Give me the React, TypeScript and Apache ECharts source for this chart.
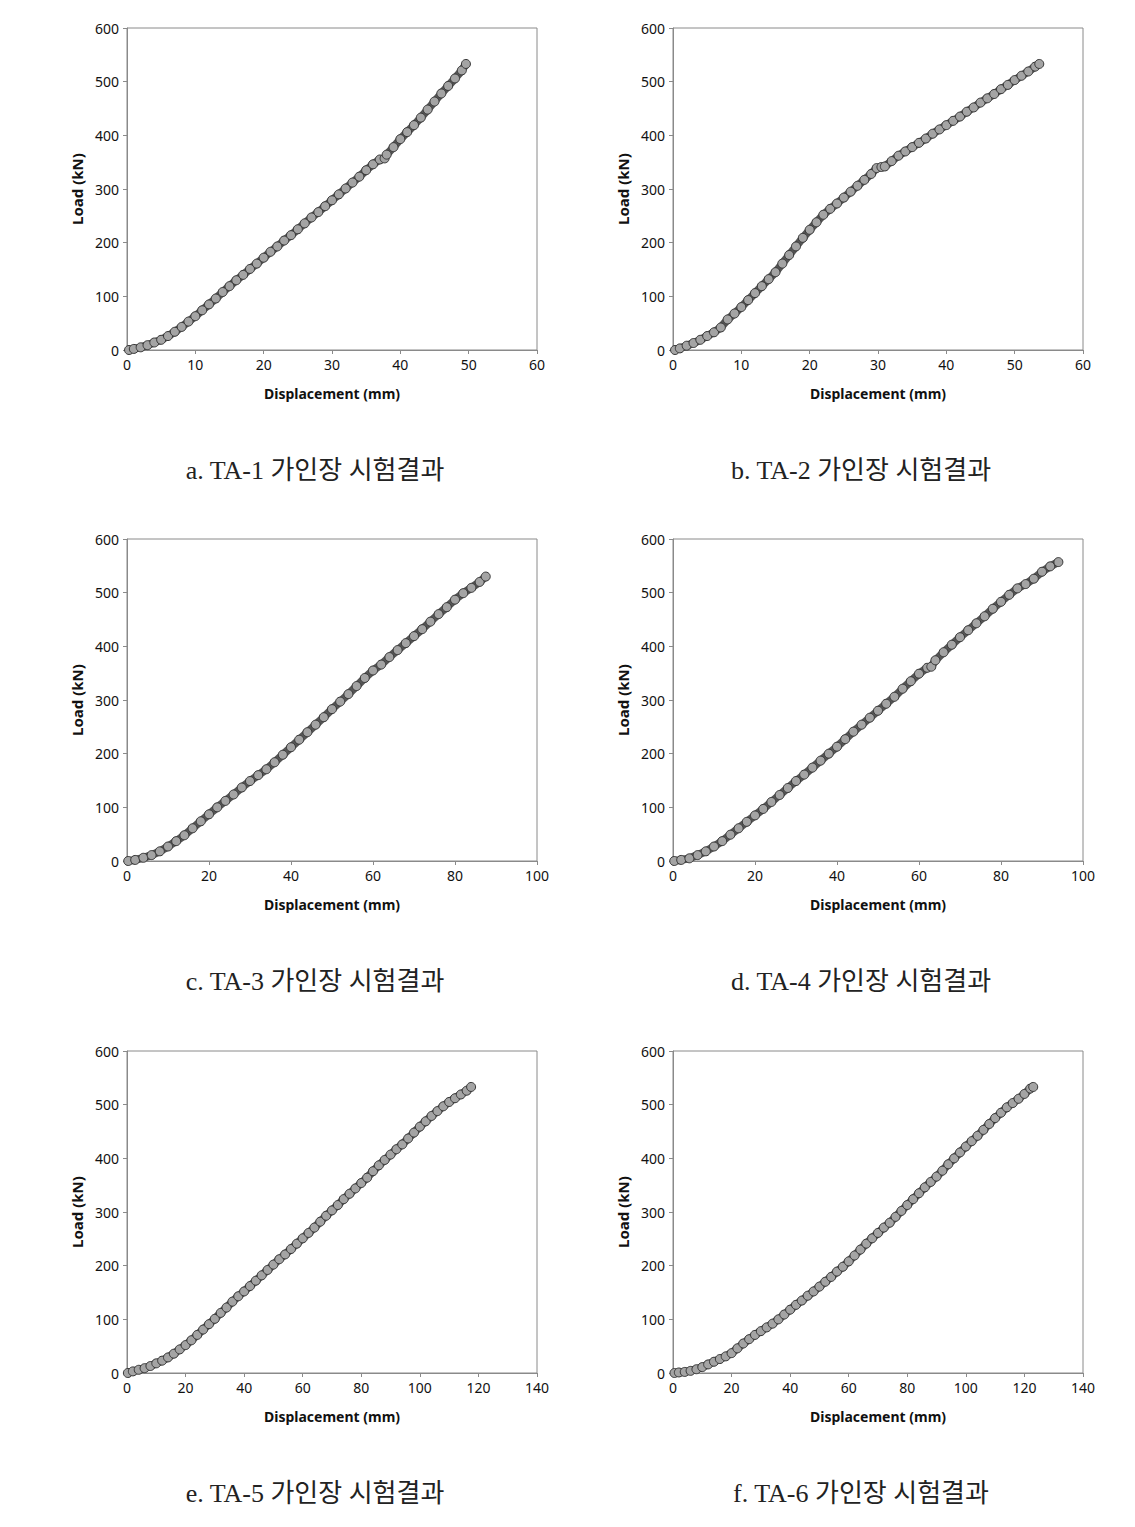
import React, { useEffect, useRef } from "react";
import * as echarts from "echarts";

// Displacement (mm), Load (kN) pairs
const TA1 = [
  [0.3, 0], [1, 2], [2, 5], [3, 9], [4, 14], [5, 19], [6, 26], [7, 34], [8, 43], [9, 53],
  [10, 63], [11, 74], [12, 85], [13, 96], [14, 108], [15, 119], [16, 130], [17, 140], [18, 151], [19, 161],
  [20, 172], [21, 183], [22, 193], [23, 204], [24, 214], [25, 225], [26, 236], [27, 247], [28, 257], [29, 268],
  [30, 279], [31, 290], [32, 301], [33, 312], [34, 323], [35, 335], [36, 346], [37, 355], [37.7, 357], [38, 364],
  [39, 378], [40, 393], [41, 406], [42, 419], [43, 433], [44, 448], [45, 463], [46, 478], [47, 492], [48, 506],
  [49, 521], [49.6, 533],
];

const TA2 = [
  [0.3, 0], [1, 3], [2, 8], [3, 13], [4, 19], [5, 26], [6, 33], [7, 42], [8, 57], [9, 68],
  [10, 80], [11, 93], [12, 106], [13, 119], [14, 132], [15, 145], [16, 161], [17, 177], [18, 193], [19, 209],
  [20, 224], [21, 238], [22, 252], [23, 263], [24, 273], [25, 284], [26, 295], [27, 306], [28, 317], [29, 328],
  [29.8, 339], [30.5, 341], [31, 342], [32, 352], [33, 362], [34, 370], [35, 378], [36, 386], [37, 394], [38, 403],
  [39, 411], [40, 419], [41, 427], [42, 435], [43, 444], [44, 452], [45, 461], [46, 469], [47, 477], [48, 486],
  [49, 494], [50, 503], [51, 511], [52, 519], [53, 528], [53.6, 533],
];

const TA3 = [
  [0.3, 0], [2, 2], [4, 6], [6, 11], [8, 18], [10, 27], [12, 37], [14, 48], [16, 61], [18, 74],
  [20, 87], [22, 100], [24, 112], [26, 124], [28, 137], [30, 149], [32, 160], [34, 171], [36, 184], [38, 198],
  [40, 212], [42, 226], [44, 240], [46, 254], [48, 268], [50, 283], [52, 297], [54, 311], [56, 326], [58, 341],
  [60, 355], [62, 366], [64, 380], [66, 393], [68, 406], [70, 419], [72, 432], [74, 446], [76, 460], [78, 473],
  [80, 487], [82, 499], [84, 509], [86, 520], [87.5, 530],
];

const TA4 = [
  [0.3, 0], [2, 2], [4, 5], [6, 11], [8, 18], [10, 27], [12, 37], [14, 49], [16, 61], [18, 73],
  [20, 85], [22, 97], [24, 110], [26, 123], [28, 136], [30, 149], [32, 161], [34, 174], [36, 187], [38, 200],
  [40, 213], [42, 227], [44, 241], [46, 254], [48, 267], [50, 280], [52, 293], [54, 306], [56, 321], [58, 335],
  [60, 349], [62, 360], [63, 362], [64, 374], [66, 389], [68, 403], [70, 417], [72, 430], [74, 443], [76, 456],
  [78, 470], [80, 483], [82, 496], [84, 508], [86, 516], [88, 526], [90, 539], [92, 549], [94, 557],
];

const TA5 = [
  [0.3, 0], [2, 3], [4, 6], [6, 9], [8, 13], [10, 18], [12, 23], [14, 29], [16, 36], [18, 44],
  [20, 52], [22, 61], [24, 71], [26, 81], [28, 91], [30, 101], [32, 112], [34, 122], [36, 133], [38, 143],
  [40, 152], [42, 162], [44, 172], [46, 182], [48, 192], [50, 202], [52, 212], [54, 221], [56, 231], [58, 241],
  [60, 251], [62, 261], [64, 271], [66, 282], [68, 293], [70, 303], [72, 313], [74, 324], [76, 334], [78, 344],
  [80, 354], [82, 364], [84, 376], [86, 387], [88, 397], [90, 407], [92, 417], [94, 426], [96, 437], [98, 448],
  [100, 459], [102, 469], [104, 479], [106, 488], [108, 497], [110, 505], [112, 512], [114, 519], [116, 526], [117.5, 533],
];

const TA6 = [
  [0.5, 0], [2, 1], [4, 2], [6, 4], [8, 7], [10, 11], [12, 16], [14, 21], [16, 26], [18, 31],
  [20, 37], [22, 46], [24, 55], [26, 63], [28, 71], [30, 78], [32, 85], [34, 92], [36, 100], [38, 109],
  [40, 118], [42, 127], [44, 135], [46, 144], [48, 152], [50, 161], [52, 170], [54, 179], [56, 189], [58, 198],
  [60, 208], [62, 219], [64, 230], [66, 241], [68, 251], [70, 261], [72, 271], [74, 280], [76, 291], [78, 302],
  [80, 313], [82, 324], [84, 335], [86, 346], [88, 356], [90, 366], [92, 377], [94, 389], [96, 400], [98, 411],
  [100, 422], [102, 432], [104, 442], [106, 453], [108, 464], [110, 475], [112, 485], [114, 495], [116, 503], [118, 511],
  [120, 520], [122, 530], [123, 533],
];

const CAPTIONS = [
  "a. TA-1 가인장 시험결과",
  "b. TA-2 가인장 시험결과",
  "c. TA-3 가인장 시험결과",
  "d. TA-4 가인장 시험결과",
  "e. TA-5 가인장 시험결과",
  "f. TA-6 가인장 시험결과",
];
const X_MAX = [60, 60, 100, 100, 140, 140];
const X_STEP = [10, 10, 20, 20, 20, 20];
const SERIES = [TA1, TA2, TA3, TA4, TA5, TA6];

const X_TITLE = "Displacement (mm)";
const Y_TITLE = "Load (kN)";

const LEFTS = [127, 673];
const TOPS = [28, 539, 1051];
const PW = 410;
const PH = 322;

export default function App() {
  const ref = useRef<HTMLDivElement>(null);
  useEffect(() => {
    if (!ref.current) return;
    const chart = echarts.init(ref.current, undefined, { renderer: "svg" });
    const grids: any[] = [];
    const xAxes: any[] = [];
    const yAxes: any[] = [];
    const series: any[] = [];
    const graphics: any[] = [];
    const axisColor = "#8a8a8a";
    const font = "'Noto Sans', 'Open Sans', sans-serif";
    for (let i = 0; i < 6; i++) {
      const col = i % 2;
      const row = Math.floor(i / 2);
      const left = LEFTS[col];
      const top = TOPS[row];
      grids.push({
        left, top, width: PW, height: PH,
        show: true, borderColor: axisColor, borderWidth: 1, backgroundColor: "transparent",
      });
      xAxes.push({
        gridIndex: i, type: "value", min: 0, max: X_MAX[i], interval: X_STEP[i],
        axisLine: { show: true, onZero: false, lineStyle: { color: axisColor, width: 1 } },
        axisTick: { show: true, length: 4, lineStyle: { color: axisColor } },
        splitLine: { show: false },
        axisLabel: { color: "#111", fontSize: 14, fontFamily: font, margin: 7 },
        name: X_TITLE, nameLocation: "middle", nameGap: 36,
        nameTextStyle: { color: "#111", fontSize: 14, fontWeight: "bold", fontFamily: font },
      });
      yAxes.push({
        gridIndex: i, type: "value", min: 0, max: 600, interval: 100,
        axisLine: { show: true, onZero: false, lineStyle: { color: axisColor, width: 1 } },
        axisTick: { show: true, length: 4, lineStyle: { color: axisColor } },
        splitLine: { show: false },
        axisLabel: { color: "#111", fontSize: 14, fontFamily: font, margin: 8 },
        name: Y_TITLE, nameLocation: "middle", nameGap: 43,
        nameTextStyle: { color: "#111", fontSize: 15, fontWeight: "bold", fontFamily: font },
      });
      series.push({
        type: "line", xAxisIndex: i, yAxisIndex: i, data: SERIES[i],
        showSymbol: true, symbol: "circle", symbolSize: 9,
        lineStyle: { color: "#555", width: 8 },
        itemStyle: { color: "#a4a4a4", borderColor: "#383838", borderWidth: 1 },
        silent: true,
      });
      graphics.push({
        type: "text",
        x: left + PW / 2 - 17,
        y: top + PH + 120,
        style: {
          text: CAPTIONS[i],
          fill: "#222",
          fontSize: 26,
          fontFamily: "'Liberation Serif', 'Noto Sans CJK KR', serif",
          align: "center",
          verticalAlign: "middle",
        },
      });
    }
    chart.setOption({
      animation: false,
      backgroundColor: "#fff",
      grid: grids,
      xAxis: xAxes,
      yAxis: yAxes,
      series,
      graphic: graphics,
    });
    return () => chart.dispose();
  }, []);
  return (
    <div
      ref={ref}
      style={{ position: "absolute", left: 0, top: 0, width: 1135, height: 1527 }}
    />
  );
}
